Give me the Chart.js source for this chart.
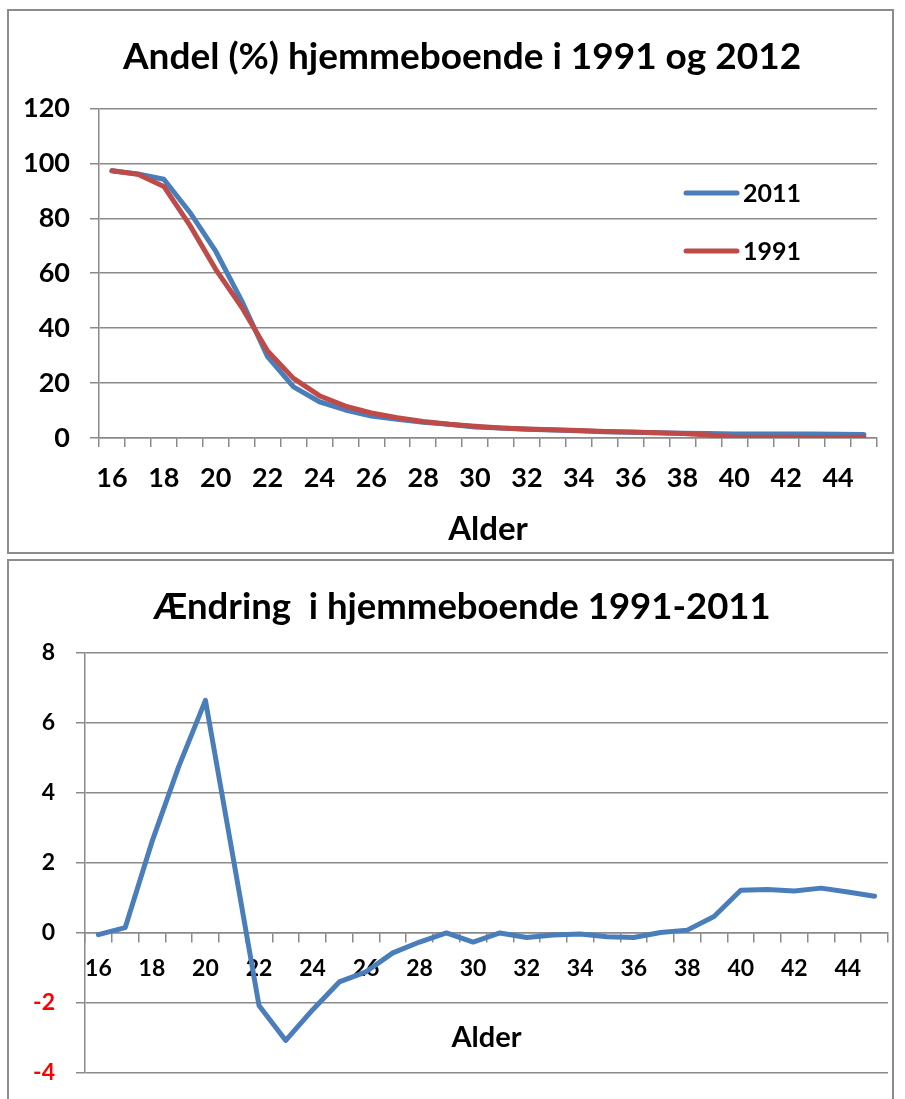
<!DOCTYPE html>
<html>
<head>
<meta charset="utf-8">
<script src="https://cdn.jsdelivr.net/npm/chart.js@4/dist/chart.umd.min.js"></script>
<style>
  html, body { margin: 0; padding: 0; background: #fff; }
  body { position: relative; width: 905px; height: 1099px; overflow: hidden; }
  .frame { position: absolute; border: 2px solid #8c8c8c; box-sizing: border-box; }
  #frameTop { left: 7px; top: 9px; width: 887px; height: 545px; }
  #frameBottom { left: 7px; top: 559px; width: 887px; height: 560px; }
  canvas { position: absolute; left: 0; }
  #topChart { top: 0; }
  #bottomChart { top: 556px; }
</style>
</head>
<body>
<div class="frame" id="frameTop"></div>
<div class="frame" id="frameBottom"></div>
<canvas id="topChart" width="905" height="556"></canvas>
<canvas id="bottomChart" width="905" height="543"></canvas>
<script>
const ages = ['16', '17', '18', '19', '20', '21', '22', '23', '24', '25', '26', '27', '28', '29', '30',
    '31', '32', '33', '34', '35', '36', '37', '38', '39', '40', '41', '42', '43', '44', '45'];

const share2011 = [97.3, 96.1, 94.2, 82.2, 68.0, 50.0, 29.6, 18.6, 13.2, 10.2, 8.0, 6.8, 5.7, 5.0, 4.0,
    3.6, 3.2, 2.9, 2.6, 2.3, 2.1, 1.9, 1.7, 1.6, 1.5, 1.5, 1.45, 1.45, 1.35, 1.3];
const share1991 = [97.3, 96.0, 91.6, 77.5, 61.4, 47.7, 31.7, 21.7, 15.4, 11.6, 9.1, 7.4, 6.0, 5.0, 4.3,
    3.6, 3.3, 3.0, 2.7, 2.4, 2.2, 1.9, 1.6, 1.1, 0.3, 0.3, 0.25, 0.2, 0.2, 0.25];
const change = [-0.05, 0.15, 2.6, 4.75, 6.64, 2.3, -2.07, -3.07, -2.2, -1.4, -1.11, -0.57, -0.26, 0.0, -0.26,
    0.0, -0.13, -0.06, -0.03, -0.11, -0.13, 0.01, 0.08, 0.47, 1.22, 1.24, 1.2, 1.28, 1.17, 1.05];

const shareTicks = [0, 20, 40, 60, 80, 100, 120];
const changeTicks = [-4, -2, 0, 2, 4, 6, 8];
const legendOrder = ['2011', '1991'];

const BLUE = '#4a7ebb';
const RED = '#be4b48';
const GRID = '#8a8a8a';
const FONT = 'Lato, "Open Sans", sans-serif';

Chart.defaults.font.family = FONT;
Chart.defaults.font.weight = 'bold';
Chart.defaults.color = '#000';

const evenAge = (v, i) => i % 2 === 0 ? ages[i] : '';

function lineSet(label, data, color) {
    return {
        label, data,
        borderColor: color,
        backgroundColor: color,
        borderWidth: 5,
        pointRadius: 0,
        tension: 0,
        borderCapStyle: 'round',
        borderJoinStyle: 'round'
    };
}

// empty right-hand axis, only there to keep a gap after the plot
function spacer(width) {
    return {
        position: 'right',
        grid: { display: false },
        border: { display: false },
        ticks: { display: false },
        afterFit: s => { s.width = width; }
    };
}

// legend drawn inside the plot, like the original
const innerLegend = {
    id: 'innerLegend',
    afterDraw(chart) {
        const ctx = chart.ctx;
        legendOrder.forEach((name, i) => {
            const ds = chart.data.datasets.find(d => d.label === name);
            const y = 193 + i * 58;
            ctx.save();
            ctx.strokeStyle = ds.borderColor;
            ctx.lineWidth = 5;
            ctx.lineCap = 'round';
            ctx.beginPath();
            ctx.moveTo(686, y);
            ctx.lineTo(737, y);
            ctx.stroke();
            ctx.fillStyle = '#000';
            ctx.font = 'bold 25px ' + FONT;
            ctx.textBaseline = 'middle';
            ctx.fillText(name, 743, y + 1);
            ctx.restore();
        });
    }
};

new Chart(document.getElementById('topChart'), {
    type: 'line',
    data: {
        labels: ages,
        datasets: [
            lineSet('1991', share1991, RED),
            lineSet('2011', share2011, BLUE)
        ]
    },
    options: {
        responsive: false,
        animation: false,
        layout: { padding: { left: 19, right: 0, top: 0, bottom: 5 } },
        plugins: {
            legend: { display: false },
            tooltip: { enabled: false },
            title: {
                display: true,
                text: 'Andel (%) hjemmeboende i 1991 og 2012',
                font: { size: 37, weight: 'bold' },
                padding: { top: 35, bottom: 29 }
            }
        },
        scales: {
            x: {
                offset: true,
                grid: { offset: true, drawOnChartArea: false, tickLength: 9, tickColor: GRID, color: GRID, lineWidth: 1.5 },
                border: { color: GRID, width: 1.5 },
                ticks: { autoSkip: false, maxRotation: 0, padding: 15, font: { size: 27 }, callback: evenAge },
                title: { display: true, text: 'Alder', font: { size: 33 }, padding: { top: 0, bottom: 2 } },
                afterFit: s => { s.height = 113; }
            },
            y: {
                min: 0,
                max: 120,
                grid: { tickLength: 9, color: GRID, lineWidth: 1.5 },
                border: { color: GRID, width: 1.5 },
                ticks: { padding: 20, font: { size: 27 } },
                afterBuildTicks: s => { s.ticks = shareTicks.map(v => ({ value: v })); },
                afterFit: s => { s.width = 80; }
            },
            y2: spacer(28)
        }
    },
    plugins: [innerLegend]
});

new Chart(document.getElementById('bottomChart'), {
    type: 'line',
    data: {
        labels: ages,
        datasets: [lineSet('Endring', change, BLUE)]
    },
    options: {
        responsive: false,
        animation: false,
        layout: { padding: { left: 19, right: 0, top: 0, bottom: 26 } },
        plugins: {
            legend: { display: false },
            tooltip: { enabled: false },
            title: {
                display: true,
                text: 'Ændring  i hjemmeboende 1991-2011',
                font: { size: 36.5, weight: 'bold' },
                padding: { top: 29, bottom: 24 }
            }
        },
        scales: {
            x: {
                position: { y: 0 },
                offset: true,
                grid: { offset: true, drawOnChartArea: false, tickLength: 9, tickColor: GRID, color: GRID, lineWidth: 1.5 },
                border: { color: GRID, width: 1.5 },
                ticks: { autoSkip: false, maxRotation: 0, padding: 13, font: { size: 23 }, callback: evenAge },
                title: { display: true, text: 'Alder', font: { size: 29 }, padding: { top: 0, bottom: 2 } },
                afterFit: s => { s.height = 124; }
            },
            y: {
                min: -4,
                max: 8,
                grid: { tickLength: 9, color: GRID, lineWidth: 1.5 },
                border: { color: GRID, width: 1.5 },
                ticks: {
                    padding: 21,
                    font: { size: 23 },
                    color: c => c.tick && c.tick.value < 0 ? '#ff0000' : '#000'
                },
                afterBuildTicks: s => { s.ticks = changeTicks.map(v => ({ value: v })); },
                afterFit: s => {
                    s.width = 66;
                    s.paddingBottom = 0; // let the plot run down to the layout padding
                }
            },
            y2: spacer(17)
        }
    }
});
</script>
</body>
</html>
